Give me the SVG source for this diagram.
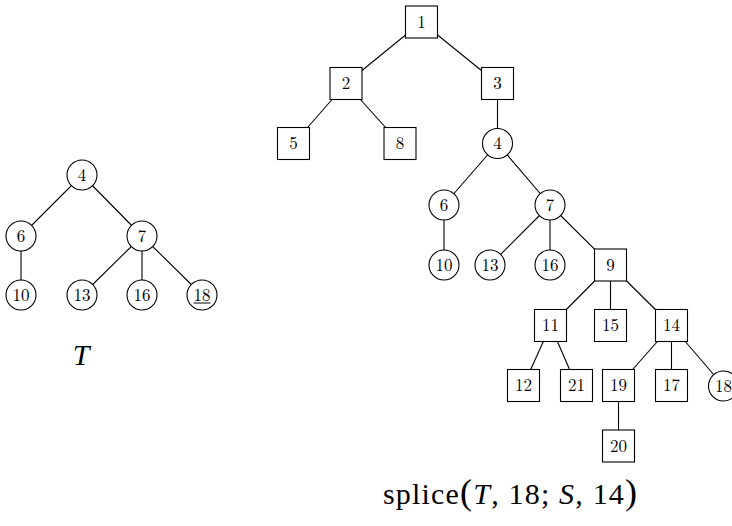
<svg xmlns="http://www.w3.org/2000/svg" width="732" height="526" viewBox="0 0 732 526">
<style>
.e{stroke:#000;stroke-width:1.1}
.c,.b{fill:#fff;stroke:#000;stroke-width:1.1}
.t{font-family:"Latin Modern Roman","Liberation Serif","DejaVu Serif",serif;font-size:17px;text-anchor:middle;fill:#000}
.big{font-family:"Liberation Serif","DejaVu Serif",serif;font-size:30px;fill:#000}
</style>
<rect width="732" height="526" fill="#fff"/>
<g id="connectors">
<line class="e" x1="82" y1="175" x2="21" y2="236"/>
<line class="e" x1="82" y1="175" x2="142" y2="236"/>
<line class="e" x1="21" y1="236" x2="21" y2="295"/>
<line class="e" x1="142" y1="236" x2="82" y2="295"/>
<line class="e" x1="142" y1="236" x2="142" y2="295"/>
<line class="e" x1="142" y1="236" x2="202" y2="295"/>
<line class="e" x1="421.5" y1="22" x2="346" y2="83.5"/>
<line class="e" x1="421.5" y1="22" x2="497.5" y2="83.5"/>
<line class="e" x1="346" y1="83.5" x2="293.5" y2="143.5"/>
<line class="e" x1="346" y1="83.5" x2="400" y2="143.5"/>
<line class="e" x1="497.5" y1="83.5" x2="497.5" y2="143.5"/>
<line class="e" x1="497.5" y1="143.5" x2="444" y2="205"/>
<line class="e" x1="497.5" y1="143.5" x2="550" y2="205"/>
<line class="e" x1="444" y1="205" x2="444" y2="265"/>
<line class="e" x1="550" y1="205" x2="490" y2="265"/>
<line class="e" x1="550" y1="205" x2="550" y2="265"/>
<line class="e" x1="550" y1="205" x2="610.5" y2="265"/>
<line class="e" x1="610.5" y1="265" x2="550.5" y2="325.5"/>
<line class="e" x1="610.5" y1="265" x2="610.5" y2="325.5"/>
<line class="e" x1="610.5" y1="265" x2="671.5" y2="325.5"/>
<line class="e" x1="550.5" y1="325.5" x2="523.5" y2="385.5"/>
<line class="e" x1="550.5" y1="325.5" x2="576.5" y2="385.5"/>
<line class="e" x1="671.5" y1="325.5" x2="618.5" y2="385.5"/>
<line class="e" x1="671.5" y1="325.5" x2="671.5" y2="385.5"/>
<line class="e" x1="671.5" y1="325.5" x2="723.5" y2="386"/>
<line class="e" x1="618.5" y1="385.5" x2="618.5" y2="446"/>
</g>
<g id="L4"><circle class="c" cx="82" cy="175" r="15"/><text class="t" x="82" y="180.5">4</text></g>
<g id="L6"><circle class="c" cx="21" cy="236" r="15"/><text class="t" x="21" y="241.5">6</text></g>
<g id="L7"><circle class="c" cx="142" cy="236" r="15"/><text class="t" x="142" y="241.5">7</text></g>
<g id="L10"><circle class="c" cx="21" cy="295" r="15"/><text class="t" x="21" y="300.5">10</text></g>
<g id="L13"><circle class="c" cx="82" cy="295" r="15"/><text class="t" x="82" y="300.5">13</text></g>
<g id="L16"><circle class="c" cx="142" cy="295" r="15"/><text class="t" x="142" y="300.5">16</text></g>
<g id="L18"><circle class="c" cx="202" cy="295" r="15"/><text class="t" x="202" y="300.5">18</text><line x1="193.5" y1="303" x2="210.5" y2="303" stroke="#000" stroke-width="1"/></g>
<g id="R1"><rect class="b" x="405.5" y="6" width="32" height="32"/><text class="t" x="421.5" y="27.5">1</text></g>
<g id="R2"><rect class="b" x="330" y="67.5" width="32" height="32"/><text class="t" x="346" y="89">2</text></g>
<g id="R3"><rect class="b" x="481.5" y="67.5" width="32" height="32"/><text class="t" x="497.5" y="89">3</text></g>
<g id="R5"><rect class="b" x="277.5" y="127.5" width="32" height="32"/><text class="t" x="293.5" y="149">5</text></g>
<g id="R8"><rect class="b" x="384" y="127.5" width="32" height="32"/><text class="t" x="400" y="149">8</text></g>
<g id="R4"><circle class="c" cx="497.5" cy="143.5" r="15"/><text class="t" x="497.5" y="149">4</text></g>
<g id="R6"><circle class="c" cx="444" cy="205" r="15"/><text class="t" x="444" y="210.5">6</text></g>
<g id="R7"><circle class="c" cx="550" cy="205" r="15"/><text class="t" x="550" y="210.5">7</text></g>
<g id="R10"><circle class="c" cx="444" cy="265" r="15"/><text class="t" x="444" y="270.5">10</text></g>
<g id="R13"><circle class="c" cx="490" cy="265" r="15"/><text class="t" x="490" y="270.5">13</text></g>
<g id="R16"><circle class="c" cx="550" cy="265" r="15"/><text class="t" x="550" y="270.5">16</text></g>
<g id="R9"><rect class="b" x="594.5" y="249" width="32" height="32"/><text class="t" x="610.5" y="270.5">9</text></g>
<g id="R11"><rect class="b" x="534.5" y="309.5" width="32" height="32"/><text class="t" x="550.5" y="331">11</text></g>
<g id="R15"><rect class="b" x="594.5" y="309.5" width="32" height="32"/><text class="t" x="610.5" y="331">15</text></g>
<g id="R14"><rect class="b" x="655.5" y="309.5" width="32" height="32"/><text class="t" x="671.5" y="331">14</text></g>
<g id="R12"><rect class="b" x="507.5" y="369.5" width="32" height="32"/><text class="t" x="523.5" y="391">12</text></g>
<g id="R21"><rect class="b" x="560.5" y="369.5" width="32" height="32"/><text class="t" x="576.5" y="391">21</text></g>
<g id="R19"><rect class="b" x="602.5" y="369.5" width="32" height="32"/><text class="t" x="618.5" y="391">19</text></g>
<g id="R17"><rect class="b" x="655.5" y="369.5" width="32" height="32"/><text class="t" x="671.5" y="391">17</text></g>
<g id="R18"><circle class="c" cx="723.5" cy="386" r="15"/><text class="t" x="723.5" y="391.5">18</text></g>
<g id="R20"><rect class="b" x="602.5" y="430" width="32" height="32"/><text class="t" x="618.5" y="451.5">20</text></g>
<text class="big" x="81" y="364.5" text-anchor="middle" font-style="italic" font-size="28">T</text>
<text class="big" x="383" y="504" textLength="254" lengthAdjust="spacing">splice<tspan font-size="36">(</tspan><tspan font-style="italic">T</tspan>, 18; <tspan font-style="italic">S</tspan>, 14<tspan font-size="36">)</tspan></text>
</svg>
